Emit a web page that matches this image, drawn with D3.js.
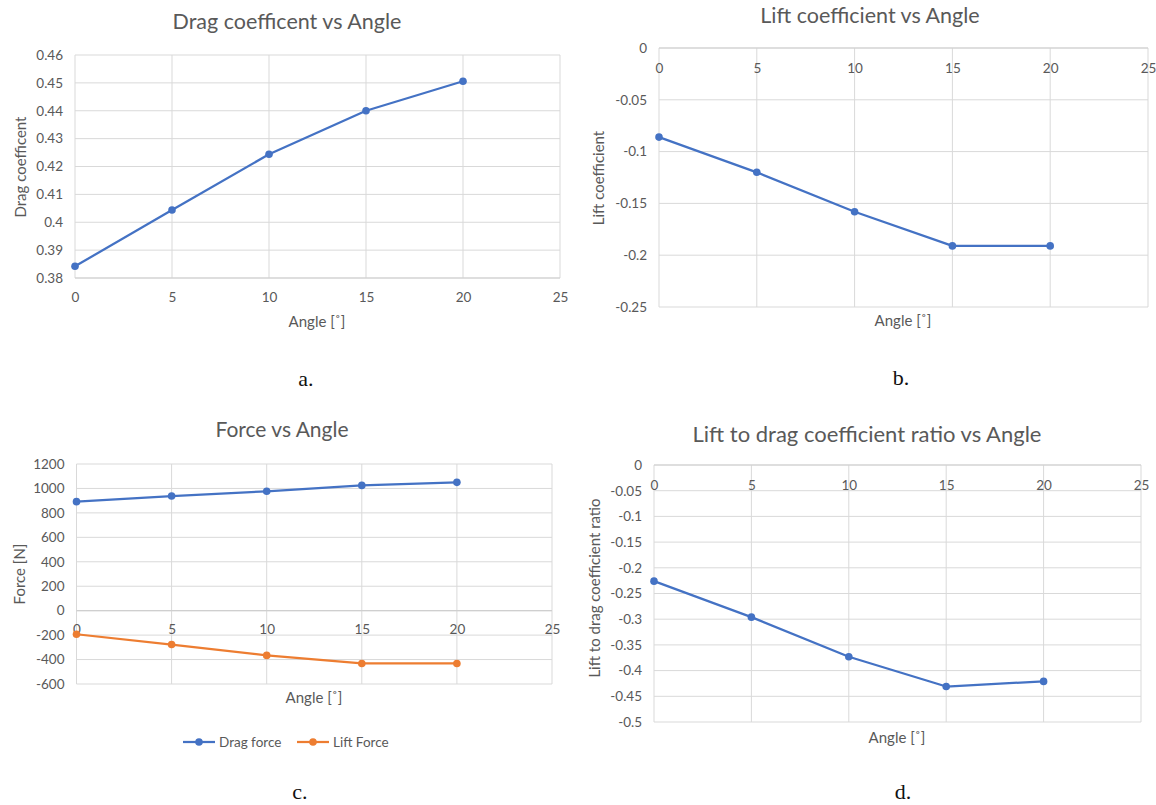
<!DOCTYPE html>
<html>
<head>
<meta charset="utf-8">
<script src="https://cdn.jsdelivr.net/npm/d3@7"></script>
<style>
  html, body { margin: 0; padding: 0; background: #ffffff; }
  svg { display: block; }
</style>
</head>
<body>
<svg id="fig" width="1156" height="805"></svg>
<script>
// Shared x values (angle of attack, degrees)
const angles = [0, 5, 10, 15, 20];
const angleTicks = [0, 5, 10, 15, 20, 25];

// a. Drag coefficient
const dragCoefficient = [0.3842, 0.4044, 0.4244, 0.4400, 0.4506];
const dragCoefTicks = [0.38, 0.39, 0.40, 0.41, 0.42, 0.43, 0.44, 0.45, 0.46];

// b. Lift coefficient
const liftCoefficient = [-0.086, -0.120, -0.158, -0.191, -0.191];
const liftCoefTicks = [-0.25, -0.20, -0.15, -0.10, -0.05, 0];

// c. Forces
const dragForce = [892, 938, 977, 1025, 1050];
const liftForce = [-193, -277, -366, -432, -432];
const forceTicks = [-600, -400, -200, 0, 200, 400, 600, 800, 1000, 1200];
const forceSeriesNames = ["Drag force", "Lift Force"];

// d. Lift to drag ratio
const liftDragRatio = [-0.226, -0.296, -0.373, -0.431, -0.421];
const ratioTicks = [-0.5, -0.45, -0.4, -0.35, -0.3, -0.25, -0.2, -0.15, -0.1, -0.05, 0];

const BLUE = "#4472c4";
const ORANGE = "#ed7d31";
const GRID = "#d9d9d9";
const TEXT = "#595959";
const FONT = "Lato, 'Open Sans', sans-serif";
const TICK_SIZE = "13.5px";
const AXIS_TITLE_SIZE = "15px";

const fmt = v => String(Math.round(v * 1000) / 1000);

const svg = d3.select("#fig");

function drawPanel(cfg) {
  const g = svg.append("g");
  const yTicks = cfg.yTicks;
  const x = d3.scaleLinear().domain([angleTicks[0], angleTicks[angleTicks.length - 1]])
    .range([cfg.left, cfg.right]);
  const y = d3.scaleLinear().domain([yTicks[0], yTicks[yTicks.length - 1]])
    .range([cfg.bottom, cfg.top]);

  // the category axis crosses at zero when zero is inside the range
  const cross = (y.domain()[0] <= 0 && y.domain()[1] >= 0) ? 0 : y.domain()[0];

  // gridlines
  g.append("g").selectAll("line").data(yTicks).join("line")
    .attr("x1", cfg.left).attr("x2", cfg.right)
    .attr("y1", d => y(d)).attr("y2", d => y(d))
    .attr("stroke", GRID).attr("stroke-width", 1);
  g.append("g").selectAll("line").data(angleTicks).join("line")
    .attr("x1", d => x(d)).attr("x2", d => x(d))
    .attr("y1", cfg.top).attr("y2", cfg.bottom)
    .attr("stroke", GRID).attr("stroke-width", 1);
  // horizontal axis line
  g.append("line")
    .attr("x1", cfg.left).attr("x2", cfg.right)
    .attr("y1", y(cross)).attr("y2", y(cross))
    .attr("stroke", "#cfcfcf").attr("stroke-width", 1.2);

  // value axis labels
  g.append("g").attr("transform", `translate(${cfg.left},0)`)
    .call(d3.axisLeft(y).tickValues(yTicks).tickSize(0).tickPadding(cfg.yPad).tickFormat(fmt))
    .call(s => s.select(".domain").remove())
    .call(s => s.selectAll("text").attr("fill", TEXT).style("font-family", FONT).style("font-size", TICK_SIZE));

  // angle axis labels
  g.append("g").attr("transform", `translate(0,${y(cross)})`)
    .call(d3.axisBottom(x).tickValues(angleTicks).tickSize(0).tickPadding(cfg.xPad).tickFormat(fmt))
    .call(s => s.select(".domain").remove())
    .call(s => s.selectAll("text").attr("fill", TEXT).style("font-family", FONT).style("font-size", TICK_SIZE));

  // series
  const line = d3.line().x((d, i) => x(angles[i])).y(d => y(d));
  cfg.series.forEach(s => {
    g.append("path").datum(s.values)
      .attr("d", line).attr("fill", "none")
      .attr("stroke", s.color).attr("stroke-width", 2.25)
      .attr("stroke-linejoin", "round");
    g.append("g").selectAll("circle").data(s.values).join("circle")
      .attr("cx", (d, i) => x(angles[i])).attr("cy", d => y(d))
      .attr("r", 3.8).attr("fill", s.color);
  });

  // chart title
  g.append("text").attr("x", cfg.titleX).attr("y", cfg.titleY)
    .attr("text-anchor", "middle").attr("dominant-baseline", "central")
    .attr("fill", TEXT).style("font-family", FONT).style("font-size", cfg.titleSize)
    .text(cfg.title);

  // axis titles
  g.append("text").attr("x", cfg.xTitleX).attr("y", cfg.xTitleY)
    .attr("text-anchor", "middle").attr("dominant-baseline", "central")
    .attr("fill", TEXT).style("font-family", FONT).style("font-size", AXIS_TITLE_SIZE)
    .text("Angle [˚]");
  g.append("text")
    .attr("transform", `translate(${cfg.yTitleX},${cfg.yTitleY}) rotate(-90)`)
    .attr("text-anchor", "middle").attr("dominant-baseline", "central")
    .attr("fill", TEXT).style("font-family", FONT).style("font-size", AXIS_TITLE_SIZE)
    .text(cfg.yTitle);

  // sub-figure caption
  g.append("text").attr("x", cfg.capX).attr("y", cfg.capY)
    .attr("text-anchor", "middle").attr("dominant-baseline", "central")
    .attr("fill", "#111").style("font-family", "'Liberation Serif', 'Times New Roman', serif")
    .style("font-size", "22px")
    .text(cfg.caption);

  return g;
}

drawPanel({
  left: 75, right: 560, top: 55, bottom: 278,
  yTicks: dragCoefTicks, yPad: 12, xPad: 14,
  series: [{ values: dragCoefficient, color: BLUE }],
  title: "Drag coefficent vs Angle", titleX: 287, titleY: 21, titleSize: "21.5px",
  xTitleX: 317, xTitleY: 321,
  yTitle: "Drag coefficent", yTitleX: 20, yTitleY: 167,
  caption: "a.", capX: 306, capY: 378
});

drawPanel({
  left: 659, right: 1148, top: 48, bottom: 307,
  yTicks: liftCoefTicks, yPad: 12, xPad: 15,
  series: [{ values: liftCoefficient, color: BLUE }],
  title: "Lift coefficient vs Angle", titleX: 870, titleY: 15, titleSize: "21.5px",
  xTitleX: 903, xTitleY: 320,
  yTitle: "Lift coefficient", yTitleX: 598, yTitleY: 178,
  caption: "b.", capX: 901, capY: 377
});

drawPanel({
  left: 76.5, right: 552, top: 464, bottom: 684,
  yTicks: forceTicks, yPad: 12, xPad: 14,
  series: [
    { values: dragForce, color: BLUE },
    { values: liftForce, color: ORANGE }
  ],
  title: "Force vs Angle", titleX: 282, titleY: 428, titleSize: "21px",
  xTitleX: 314, xTitleY: 697,
  yTitle: "Force [N]", yTitleX: 19, yTitleY: 574,
  caption: "c.", capX: 300, capY: 791
});

drawPanel({
  left: 654, right: 1141, top: 465, bottom: 722,
  yTicks: ratioTicks, yPad: 12, xPad: 15,
  series: [{ values: liftDragRatio, color: BLUE }],
  title: "Lift to drag coefficient ratio vs Angle", titleX: 867, titleY: 433, titleSize: "22px",
  xTitleX: 897, xTitleY: 737,
  yTitle: "Lift to drag coefficient ratio", yTitleX: 594, yTitleY: 588,
  caption: "d.", capX: 903, capY: 791
});

// legend for the force chart
const legend = svg.append("g");
const legendItems = [
  { name: forceSeriesNames[0], color: BLUE, x: 183 },
  { name: forceSeriesNames[1], color: ORANGE, x: 297 }
];
legendItems.forEach(it => {
  const lg = legend.append("g").attr("transform", `translate(${it.x},742)`);
  lg.append("line").attr("x1", 0).attr("x2", 32).attr("y1", 0).attr("y2", 0)
    .attr("stroke", it.color).attr("stroke-width", 2.25);
  lg.append("circle").attr("cx", 16).attr("cy", 0).attr("r", 3.8).attr("fill", it.color);
  lg.append("text").attr("x", 36).attr("y", 0).attr("dominant-baseline", "central")
    .attr("fill", TEXT).style("font-family", FONT).style("font-size", "13.5px")
    .text(it.name);
});
</script>
</body>
</html>
